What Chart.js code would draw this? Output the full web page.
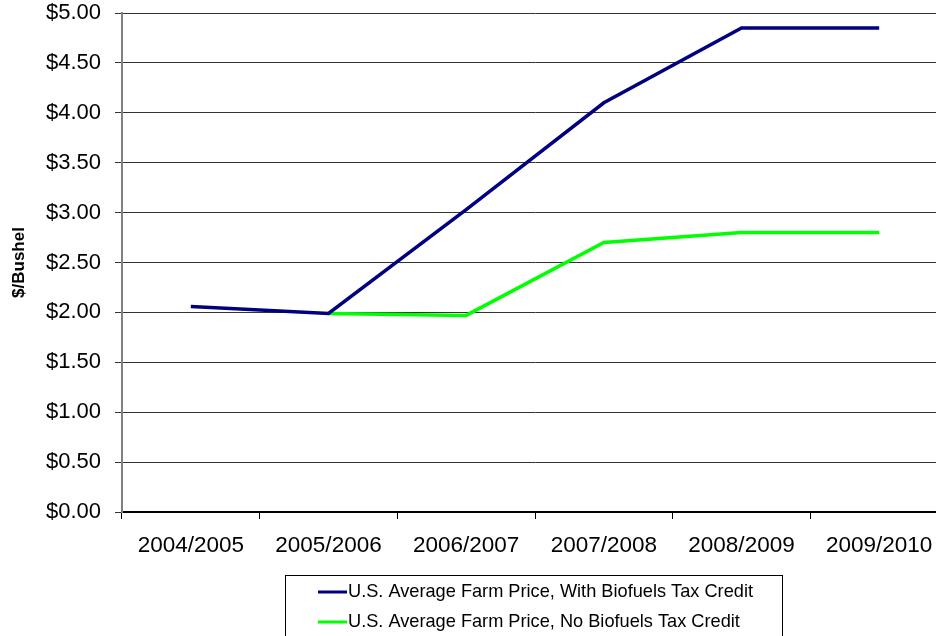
<!DOCTYPE html>
<html>
<head>
<meta charset="utf-8">
<script src="https://cdn.jsdelivr.net/npm/chart.js@4/dist/chart.umd.min.js"></script>
<style>
  html, body { margin: 0; padding: 0; background: #fff; overflow: hidden; }
  #wrap { width: 948px; height: 636px; }
</style>
</head>
<body>
<div id="wrap"><canvas id="priceChart" width="948" height="636"></canvas></div>
<script>
const seasons = ["2004/2005", "2005/2006", "2006/2007", "2007/2008", "2008/2009", "2009/2010"];
const withCredit = [2.06, 1.99, 3.03, 4.10, 4.85, 4.85];
const noCredit = [null, 1.99, 1.97, 2.70, 2.80, 2.80];
const seriesNames = [
    "U.S. Average Farm Price, With Biofuels Tax Credit",
    "U.S. Average Farm Price, No Biofuels Tax Credit",
];

const FONT = "'Liberation Sans', Arial, sans-serif";

// legend drawn by hand so it sits in a bordered box, one entry per row
const boxLegend = {
    id: "boxLegend",
    afterDraw(chart) {
        const ctx = chart.ctx;
        ctx.save();
        ctx.strokeStyle = "#000";
        ctx.lineWidth = 1;
        ctx.strokeRect(285.5, 575.5, 497, 80);
        ctx.font = "18.2px " + FONT;
        ctx.textBaseline = "middle";
        ctx.fillStyle = "#000";
        chart.data.datasets.forEach((ds, i) => {
            const y = 592 + i * 30;
            ctx.strokeStyle = ds.borderColor;
            ctx.lineWidth = 3;
            ctx.beginPath();
            ctx.moveTo(318, y);
            ctx.lineTo(347, y);
            ctx.stroke();
            ctx.fillText(ds.label, 348, y);
        });
        ctx.restore();
    },
};

new Chart(document.getElementById("priceChart"), {
    type: "line",
    data: {
        labels: seasons,
        datasets: [
            {
                label: seriesNames[0],
                data: withCredit,
                borderColor: "#000080",
                borderWidth: 3.5,
                pointRadius: 0,
                tension: 0,
                spanGaps: false,
            },
            {
                label: seriesNames[1],
                data: noCredit,
                borderColor: "#00ff00",
                borderWidth: 3.5,
                pointRadius: 0,
                tension: 0,
                spanGaps: false,
            },
        ],
    },
    options: {
        responsive: false,
        animation: false,
        devicePixelRatio: 1,
        layout: { autoPadding: false, padding: { top: 13, right: 0, bottom: 0, left: 0 } },
        plugins: {
            legend: { display: false },
            tooltip: { enabled: false },
        },
        scales: {
            x: {
                offset: true,
                grid: {
                    offset: true,
                    drawOnChartArea: false,
                    color: "#000",
                    tickLength: 7,
                    lineWidth: 1,
                },
                border: { color: "#000", width: 2 },
                ticks: {
                    color: "#000",
                    font: { family: FONT, size: 22.5 },
                    padding: 13,
                    maxRotation: 0,
                },
                afterFit(scale) {
                    scale.height = 124;
                    scale.paddingLeft = 0;
                    scale.paddingRight = 0;
                },
            },
            y: {
                min: 0,
                max: 5,
                grid: { color: "#333", lineWidth: 1, tickLength: 7 },
                border: { color: "#808080", width: 2 },
                ticks: {
                    stepSize: 0.5,
                    color: "#000",
                    padding: 14,
                    font: { family: FONT, size: 22 },
                    callback: (v) => "$" + Number(v).toFixed(2),
                },
                title: {
                    display: true,
                    text: "$/Bushel",
                    color: "#000",
                    font: { family: FONT, size: 17, weight: "bold" },
                    padding: { top: 9, bottom: 0 },
                },
                afterFit(scale) {
                    scale.width = 122;
                    scale.paddingTop = 0;
                    scale.paddingBottom = 0;
                },
            },
        },
    },
    plugins: [boxLegend],
});
</script>
</body>
</html>
